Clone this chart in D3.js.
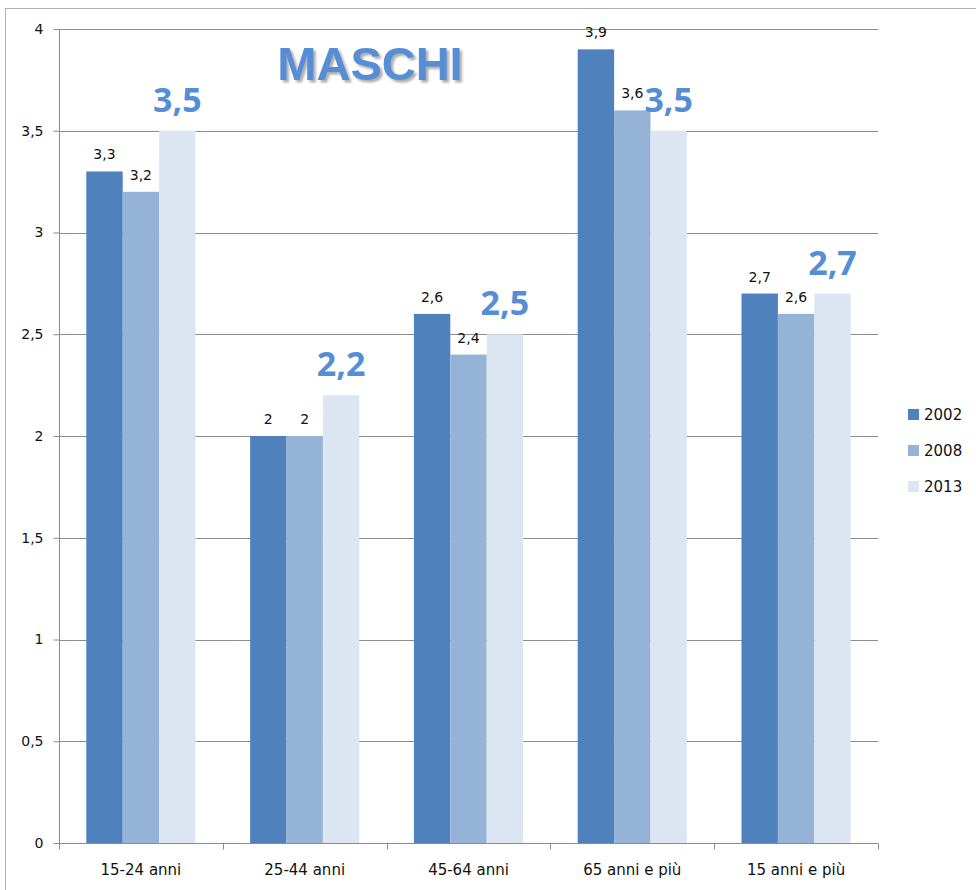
<!DOCTYPE html>
<html>
<head>
<meta charset="utf-8">
<script src="https://cdn.jsdelivr.net/npm/d3@7"></script>
<style>
  body { margin: 0; background: #fff; }
  svg text { font-family: "DejaVu Sans", Verdana, sans-serif; }
</style>
</head>
<body>
<svg id="chart" width="976" height="890"></svg>
<script>
var categories = ["15-24 anni", "25-44 anni", "45-64 anni", "65 anni e più", "15 anni e più"];
var years = ["2002", "2008", "2013"];
var values2002 = [3.3, 2.0, 2.6, 3.9, 2.7];
var values2008 = [3.2, 2.0, 2.4, 3.6, 2.6];
var values2013 = [3.5, 2.2, 2.5, 3.5, 2.7];
var yTicks = [0, 0.5, 1, 1.5, 2, 2.5, 3, 3.5, 4];
var colors = ["#4f81bd", "#95b3d7", "#dce6f2"];

var series = [values2002, values2008, values2013];
var fmt = function(v) { return String(v).replace(".", ","); };

var svg = d3.select("#chart");

// soft shadow for the title
var shadow = svg.append("defs").append("filter")
    .attr("id", "shadow")
    .attr("x", "-10%").attr("y", "-20%")
    .attr("width", "130%").attr("height", "150%");
shadow.append("feDropShadow")
    .attr("dx", 2.5).attr("dy", 2.5)
    .attr("stdDeviation", 1.2)
    .attr("flood-color", "#888")
    .attr("flood-opacity", 0.7);

// outer frame
svg.append("rect")
    .attr("x", 5.5).attr("y", 8.5)
    .attr("width", 990).attr("height", 900)
    .attr("fill", "none")
    .attr("stroke", "#b0b0b0");

var plotLeft = 59, plotRight = 878, plotTop = 29, plotBottom = 843;

var x0 = d3.scaleBand().domain(categories).range([plotLeft, plotRight]).padding(0);
var x1 = d3.scaleBand().domain(years).range([0, x0.bandwidth()])
    .paddingInner(0).paddingOuter(0.75);
var y = d3.scaleLinear().domain([0, 4]).range([plotBottom, plotTop]);

// gridlines
svg.append("g")
  .selectAll("line")
  .data(yTicks.filter(function(d) { return d > 0; }))
  .join("line")
    .attr("x1", plotLeft).attr("x2", plotRight)
    .attr("y1", function(d) { return Math.round(y(d)) + 0.5; })
    .attr("y2", function(d) { return Math.round(y(d)) + 0.5; })
    .attr("stroke", "#8c8c8c");

// bars
var groups = svg.append("g")
  .selectAll("g")
  .data(categories)
  .join("g")
    .attr("transform", function(d) { return "translate(" + x0(d) + ",0)"; });

var cellData = function(d, i) {
  return years.map(function(yr, j) { return {year: yr, j: j, v: series[j][i]}; });
};

groups.selectAll("rect")
  .data(cellData)
  .join("rect")
    .attr("x", function(d) { return x1(d.year); })
    .attr("y", function(d) { return y(d.v); })
    .attr("width", x1.bandwidth())
    .attr("height", function(d) { return y(0) - y(d.v); })
    .attr("fill", function(d) { return colors[d.j]; });

// data labels
groups.selectAll("text")
  .data(cellData)
  .join("text")
    .attr("text-anchor", "middle")
    .attr("x", function(d) { return x1(d.year) + x1.bandwidth() / 2; })
    .attr("y", function(d) { return y(d.v) - (d.j == 2 ? 19 : 12); })
    .style("font-size", function(d) { return d.j == 2 ? "34px" : "14px"; })
    .style("font-family", function(d) { return d.j == 2 ? "'Open Sans', sans-serif" : null; })
    .style("font-weight", function(d) { return d.j == 2 ? "bold" : "normal"; })
    .attr("fill", function(d) { return d.j == 2 ? "#558ed5" : "#111"; })
    .text(function(d) { return fmt(d.v); });

// y axis
var yAxis = svg.append("g")
    .attr("transform", "translate(" + (plotLeft + 0.5) + ",0)")
    .call(d3.axisLeft(y).tickValues(yTicks).tickSize(6).tickPadding(10).tickFormat(fmt));
yAxis.select(".domain").attr("stroke", "#8c8c8c").attr("d", "M0," + plotTop + "V" + plotBottom);
yAxis.selectAll(".tick line").attr("stroke", "#8c8c8c");
yAxis.selectAll(".tick text")
    .style("font-size", "14px")
    .style("font-family", "'DejaVu Sans', sans-serif")
    .attr("fill", "#111");

// x axis
var xAxis = svg.append("g")
    .attr("transform", "translate(0," + (plotBottom + 0.5) + ")");
xAxis.append("line")
    .attr("x1", plotLeft).attr("x2", plotRight)
    .attr("stroke", "#8c8c8c");
xAxis.selectAll(".xtick")
  .data(categories.concat(["end"]))
  .join("line")
    .attr("class", "xtick")
    .attr("x1", function(d, i) { return Math.round(plotLeft + i * x0.step()) + 0.5; })
    .attr("x2", function(d, i) { return Math.round(plotLeft + i * x0.step()) + 0.5; })
    .attr("y1", 0).attr("y2", 6)
    .attr("stroke", "#8c8c8c");
xAxis.selectAll(".xlabel")
  .data(categories)
  .join("text")
    .attr("class", "xlabel")
    .attr("text-anchor", "middle")
    .attr("x", function(d) { return x0(d) + x0.bandwidth() / 2; })
    .attr("y", 31)
    .style("font-size", "15px")
    .attr("fill", "#111")
    .text(function(d) { return d; });

// title
svg.append("text")
    .attr("x", 370).attr("y", 80)
    .attr("text-anchor", "middle")
    .attr("filter", "url(#shadow)")
    .style("font-family", "'Liberation Sans', Arial, sans-serif")
    .style("font-weight", "bold")
    .style("font-size", "47px")
    .attr("fill", "#558ed5")
    .text("MASCHI");

// legend
var legend = svg.append("g").attr("transform", "translate(908,409)");
var item = legend.selectAll("g")
  .data(years)
  .join("g")
    .attr("transform", function(d, i) { return "translate(0," + (i * 36) + ")"; });
item.append("rect")
    .attr("width", 11).attr("height", 11)
    .attr("fill", function(d, i) { return colors[i]; });
item.append("text")
    .attr("x", 16).attr("y", 11)
    .style("font-size", "15px")
    .attr("fill", "#111")
    .text(function(d) { return d; });
</script>
</body>
</html>
